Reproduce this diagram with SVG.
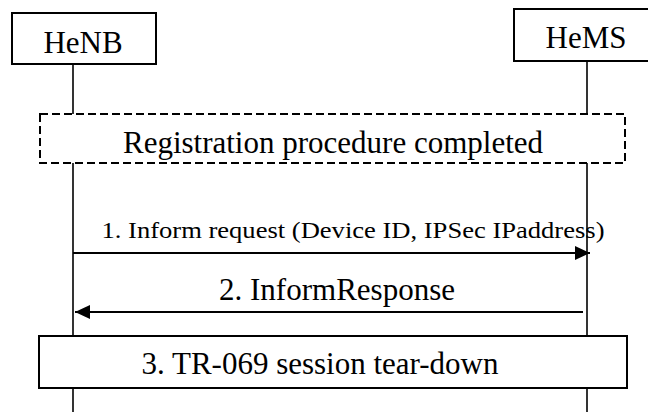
<svg xmlns="http://www.w3.org/2000/svg" width="648" height="412" viewBox="0 0 648 412">
<style>
.t{font-family:"Liberation Serif","Times New Roman",serif;fill:#000;text-anchor:middle}
.big{font-size:31px}
.box{fill:#fff;stroke:#000;stroke-width:2}
.dash{fill:#fff;stroke:#000;stroke-width:2;stroke-dasharray:8 4}
.life{stroke:#000;stroke-width:1.6;fill:none}
.msg{stroke:#000;stroke-width:2;fill:none}
</style>
<defs>
<marker id="ah" viewBox="0 0 15 14" refX="15" refY="7" markerWidth="15" markerHeight="14" markerUnits="userSpaceOnUse" orient="auto">
<path d="M0,0 L15,7 L0,14 z" fill="#000"/>
</marker>
</defs>
<g id="lifelines">
<line class="life" x1="73" y1="64" x2="73" y2="412"/>
<line class="life" x1="587" y1="61" x2="587" y2="412"/>
</g>
<g id="henb">
<rect class="box" x="12" y="13" width="144" height="51"/>
<text class="t big" x="83" y="53">HeNB</text>
</g>
<g id="hems">
<rect class="box" x="514" y="9" width="150" height="52"/>
<text class="t big" x="586" y="48">HeMS</text>
</g>
<g id="registration">
<rect class="dash" x="40" y="114" width="585" height="49"/>
<text class="t big" x="333" y="153">Registration procedure completed</text>
</g>
<g id="connectors">
<line class="msg" x1="73" y1="253" x2="590" y2="253" marker-end="url(#ah)"/>
<line class="msg" x1="583" y1="312" x2="75" y2="312" marker-end="url(#ah)"/>
</g>
<g id="labels">
<text class="t" x="353" y="238" font-size="24" textLength="503" lengthAdjust="spacingAndGlyphs">1. Inform request (Device ID, IPSec IPaddress)</text>
<text class="t big" x="337" y="300">2. InformResponse</text>
</g>
<g id="teardown">
<rect class="box" x="39" y="336" width="588" height="52"/>
<text class="t big" x="320" y="374">3. TR-069 session tear-down</text>
</g>
</svg>
